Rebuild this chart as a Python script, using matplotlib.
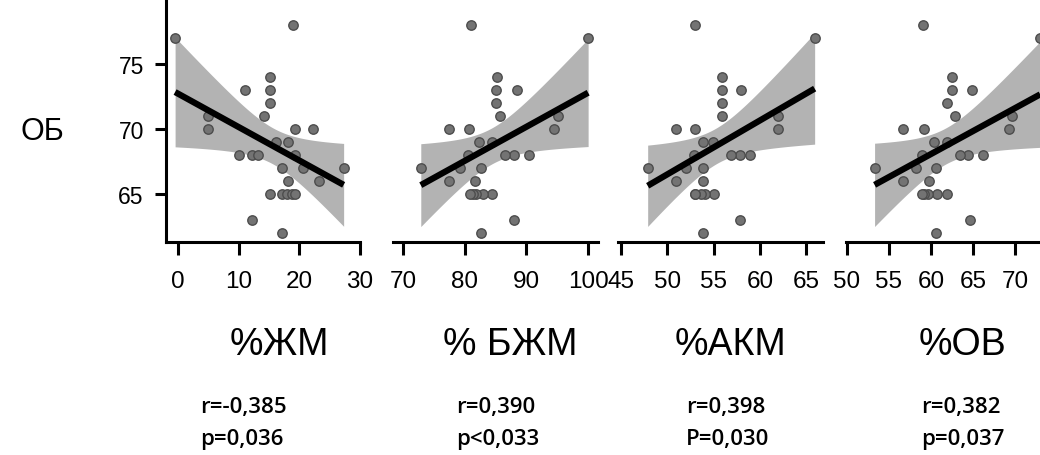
import numpy as np
import matplotlib
matplotlib.use('Agg')
import matplotlib.pyplot as plt

plt.rcParams['font.family'] = ['Liberation Sans', 'DejaVu Sans']

# OB values (same subjects in all four panels)
ob = [77, 78, 74, 73, 73, 72, 71, 71, 70, 70, 70, 69, 69, 68, 68, 68, 68,
      67, 67, 67, 66, 66, 65, 65, 65, 65, 65, 63, 62]
zhm = [-0.5, 19.0, 15.2, 11.1, 15.2, 15.2, 5.0, 14.1, 5.0, 19.2, 22.2, 16.2, 18.2,
       10.1, 12.2, 13.2, 19.3, 17.1, 27.3, 20.6, 18.2, 23.2, 15.1, 17.1, 18.0,
       18.8, 19.3, 12.2, 17.1]
bzhm = [100.0, 81.1, 85.2, 88.5, 85.1, 85.0, 95.2, 85.8, 94.5, 80.7, 77.5, 84.4, 82.4,
        90.4, 88.0, 86.5, 80.5, 82.7, 72.9, 79.3, 81.7, 77.4, 84.5, 83.0, 81.8,
        81.4, 80.9, 88.0, 82.7]
akm = [65.9, 53.0, 55.9, 58.0, 55.9, 55.9, 61.9, 55.9, 61.9, 53.0, 51.0, 54.9, 53.9,
       58.9, 57.9, 56.9, 52.9, 53.9, 47.9, 52.0, 53.9, 51.0, 55.0, 54.1, 53.6,
       53.0, 53.0, 57.9, 53.9]
ov = [73.0, 59.1, 62.5, 64.9, 62.5, 61.9, 69.6, 62.9, 69.3, 59.2, 56.7, 61.9, 60.4,
      66.2, 64.4, 63.5, 59.0, 60.6, 53.3, 58.2, 59.8, 56.7, 61.9, 60.7, 59.6,
      59.2, 59.0, 64.6, 60.6]

xlabels = ['%ЖМ', '% БЖМ', '%АКМ', '%ОВ']
r_texts = ['r=-0,385', 'r=0,390', 'r=0,398', 'r=0,382']
p_texts = ['p=0,036', 'p<0,033', 'P=0,030', 'p=0,037']
xticks = [[0, 10, 20, 30], [70, 80, 90, 100], [45, 50, 55, 60, 65], [50, 55, 60, 65, 70]]
xlims = [(-2, 30), (68.4, 101.6), (44.7, 66.8), (49.9, 75)]
yticks = [65, 70, 75]

W, H = 1040, 456
fig = plt.figure(figsize=(W / 100, H / 100), dpi=100)

# axes boxes in pixels: left, right
boxes = [(166, 360), (393, 598), (618, 823), (846, 1057)]
bottom_px = 243
label_x = [279, 510, 731, 963]
stat_x = [200, 456, 686, 921]

y = np.array(ob, dtype=float)
tval = 2.052  # t(0.975, df=27)

for i, xs in enumerate([zhm, bzhm, akm, ov]):
    l, r = boxes[i]
    ax = fig.add_axes([l / W, (H - bottom_px) / H, (r - l) / W, bottom_px / H])
    x = np.array(xs, dtype=float)
    n = len(x)
    b, a = np.polyfit(x, y, 1)
    res = y - (a + b * x)
    s = np.sqrt(np.sum(res ** 2) / (n - 2))
    sxx = np.sum((x - x.mean()) ** 2)
    xg = np.linspace(x.min(), x.max(), 100)
    yg = a + b * xg
    half = tval * s * np.sqrt(1 / n + (xg - x.mean()) ** 2 / sxx)
    ax.fill_between(xg, yg - half, yg + half, color='#b3b3b3', lw=0, zorder=1)
    ax.scatter(x, y, s=46, color='#737373', edgecolor='#4d4d4d', lw=1, zorder=2)
    ax.plot(xg, yg, color='black', lw=4.5, solid_capstyle='butt', zorder=3)

    ax.set_xlim(xlims[i])
    ax.set_ylim(61.3, 80)
    ax.set_xticks(xticks[i])
    ax.spines['top'].set_visible(False)
    ax.spines['right'].set_visible(False)
    ax.spines['bottom'].set_linewidth(2.2)
    ax.tick_params(axis='x', length=9, width=2.2, pad=11, labelsize=17.5, colors='black')
    if i == 0:
        ax.spines['left'].set_linewidth(2.2)
        ax.set_yticks(yticks)
        ax.tick_params(axis='y', length=8, width=2.2, pad=8, labelsize=16.5)
    else:
        ax.spines['left'].set_visible(False)
        ax.set_yticks([])
    ax.set_facecolor('none')

    fig.text(label_x[i] / W, 1 - 345 / H, xlabels[i], ha='center', va='center', fontsize=27)
    fig.text(stat_x[i] / W, 1 - 408 / H, r_texts[i], ha='left', va='center',
             fontsize=16, family=['Open Sans', 'DejaVu Sans'], fontweight='semibold')
    fig.text(stat_x[i] / W, 1 - 440 / H, p_texts[i], ha='left', va='center',
             fontsize=16, family=['Open Sans', 'DejaVu Sans'], fontweight='semibold')

fig.text(42 / W, 1 - 132 / H, 'ОБ', ha='center', va='center', fontsize=22)

fig.savefig('out.png', dpi=100, facecolor='white')
